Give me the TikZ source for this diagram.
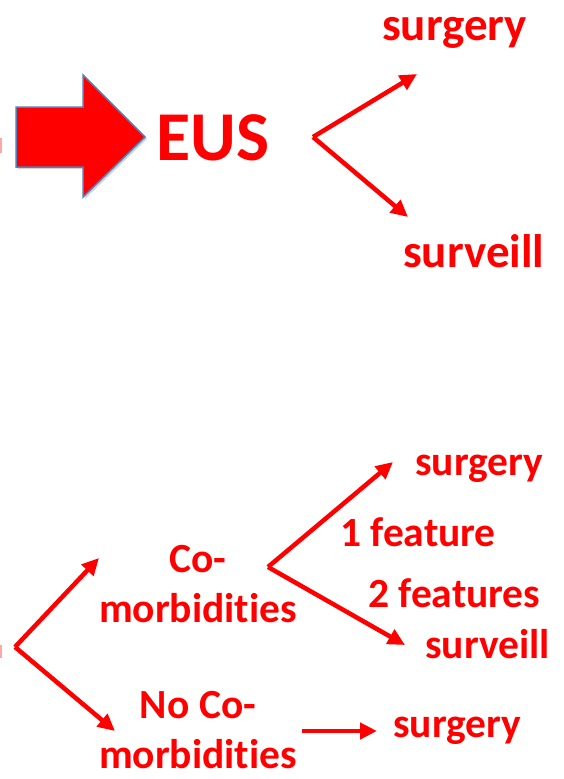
\documentclass[tikz,border=0pt]{standalone}
\usepackage{fontspec}
\setmainfont{Carlito}[Ligatures=NoCommon]
\usetikzlibrary{arrows.meta,shadows}
\definecolor{redtxt}{RGB}{255,0,0}
\definecolor{edgeblue}{RGB}{79,129,189}
\tikzset{
  big/.style={text=redtxt, font=\bfseries\fontsize{70}{84}\selectfont, inner sep=0pt},
  top/.style={text=redtxt, font=\bfseries\fontsize{47}{56}\selectfont, inner sep=0pt},
  low/.style={text=redtxt, font=\bfseries\fontsize{41.5}{50}\selectfont, inner sep=0pt, align=center},
  link/.style={draw=redtxt, line width=4.5pt, -{Triangle[length=17pt,width=16pt]}},
}
\begin{document}
\begin{tikzpicture}[x=1pt,y=-1pt]
\useasboundingbox (0,0) rectangle (563,779);

% cut-off letters at the left margin
\fill[redtxt!35] (0,138) rectangle (1.6,153);
\fill[redtxt!35] (0,645) rectangle (1.6,658);

% block arrow leading to EUS
\draw[fill=redtxt, draw=edgeblue, line width=1.5pt, line join=miter,
      drop shadow={shadow xshift=2pt, shadow yshift=-2pt, opacity=0.35}]
  (16,107) -- (83,107) -- (83,75) -- (145,137) -- (83,197) -- (83,167) -- (16,167) -- cycle;

% upper part
\node[big, anchor=base west] (eus) at (156,160) {EUS};
\coordinate (f1) at (313,137);
\node[top, anchor=base west] (surg1) at (382,40) {surgery};
\node[top, anchor=base west] (surv1) at (403,267) {surveill};
\coordinate (t1a) at (417,74);
\coordinate (t1b) at (408,217);
\draw[link] (f1) -- (t1a);
\draw[link] (f1) -- (t1b);

% lower part (base anchor of a two-line node sits on its last line)
\coordinate (f2) at (15,647);
\node[low, anchor=base] (co) at (198,622) {Co-\\morbidities};
\node[low, anchor=base] (noco) at (198,768) {No Co-\\morbidities};
\coordinate (t2a) at (99,558);
\coordinate (t2b) at (115,731);
\draw[link] (f2) -- (t2a);
\draw[link] (f2) -- (t2b);

\coordinate (f3) at (268,567);
\node[low, anchor=base west] (surg2) at (415,475) {surgery};
\node[low, anchor=base west] (one) at (340,546) {1 feature};
\node[low, anchor=base west] (two) at (368,607) {2 features};
\node[low, anchor=base west] (surv2) at (425,658) {surveill};
\coordinate (t3a) at (393,462);
\coordinate (t3b) at (405,645);
\draw[link] (f3) -- (t3a);
\draw[link] (f3) -- (t3b);

\node[low, anchor=base west] (surg3) at (393,737) {surgery};
\coordinate (s4) at (302,731);
\coordinate (t4) at (377,731);
\draw[link] (s4) -- (t4);
\end{tikzpicture}
\end{document}
